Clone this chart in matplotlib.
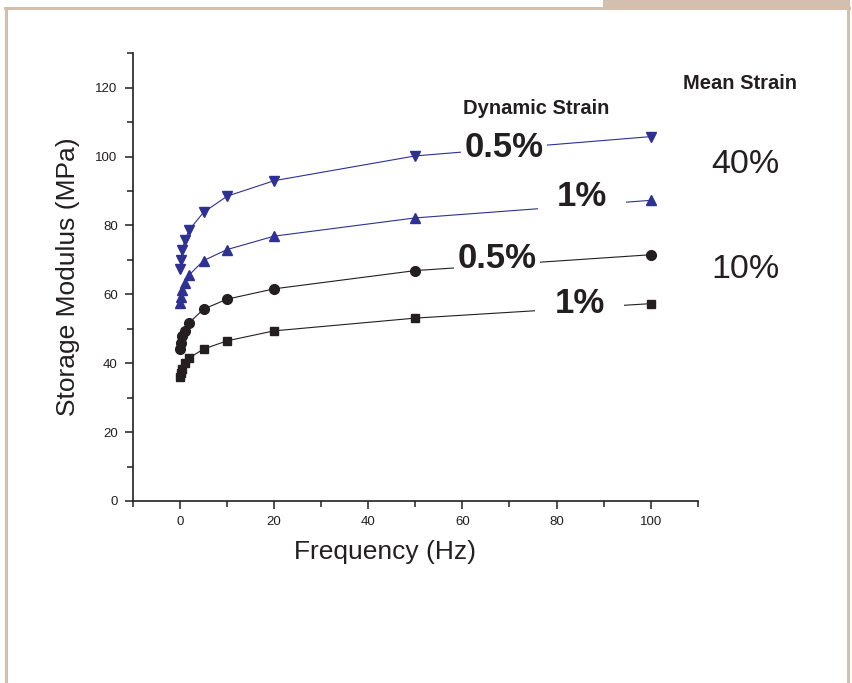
import matplotlib
matplotlib.use("Agg")
import matplotlib.pyplot as plt
from matplotlib.ticker import MultipleLocator
from matplotlib.patches import Rectangle
from matplotlib.lines import Line2D

plt.rcParams['font.family'] = ['Liberation Sans', 'DejaVu Sans']

# frequencia (Hz)
frequencia = [0.1, 0.2, 0.5, 1, 2, 5, 10, 20, 50, 100]

# modulo de armazenamento (MPa)
media40_din05 = [67.4, 69.9, 72.8, 75.7, 78.8, 83.8, 88.5, 93.0, 100.2, 105.8]
media40_din1 = [57.5, 59.2, 61.3, 63.3, 65.7, 69.8, 73.0, 76.9, 82.2, 87.3]
media10_din05 = [44.1, 45.8, 47.8, 49.5, 51.8, 55.7, 58.6, 61.6, 66.9, 71.5]
media10_din1 = [36.0, 37.2, 38.3, 40.2, 41.6, 44.1, 46.5, 49.4, 53.1, 57.3]

azul = '#2e3192'
preto = '#231f20'
bege = '#d4bfae'

fig = plt.figure(figsize=(8.52, 6.83), dpi=100)

# moldura
fig.add_artist(Line2D([0.007, 0.007], [0.0, 0.988], color=bege, lw=2.2))
fig.add_artist(Line2D([0.995, 0.995], [0.0, 0.988], color=bege, lw=2.2))
fig.add_artist(Line2D([0.006, 0.996], [0.988, 0.988], color=bege, lw=2.2))
fig.add_artist(Rectangle((0.708, 0.988), 0.29, 0.012, color=bege, lw=0))

ax = fig.add_axes([0.156, 0.2665, 0.663, 0.6555])

ax.plot(frequencia, media40_din05, 'v-', color=azul, lw=0.8, ms=7.5)
ax.plot(frequencia, media40_din1, '^-', color=azul, lw=0.8, ms=7.5)
ax.plot(frequencia, media10_din05, 'o-', color=preto, lw=0.8, ms=7)
ax.plot(frequencia, media10_din1, 's-', color=preto, lw=0.8, ms=6.3)

ax.set_xlim(-10, 110)
ax.set_ylim(0, 130)
ax.xaxis.set_major_locator(MultipleLocator(20))
ax.xaxis.set_minor_locator(MultipleLocator(10))
ax.yaxis.set_major_locator(MultipleLocator(20))
ax.yaxis.set_minor_locator(MultipleLocator(10))
ax.spines['top'].set_visible(False)
ax.spines['right'].set_visible(False)
for s in ['left', 'bottom']:
    ax.spines[s].set_linewidth(1.2)
    ax.spines[s].set_color(preto)
ax.tick_params(which='major', direction='out', length=6, width=1.1, labelsize=9.5, pad=5, colors=preto)
ax.tick_params(which='minor', direction='out', length=4, width=1.1, colors=preto)

ax.set_xlabel("Frequency (Hz)", fontsize=19, color=preto)
ax.xaxis.set_label_coords(0.446, -0.088)
ax.set_ylabel("Storage Modulus (MPa)", fontsize=19, color=preto, labelpad=11)

# rotulos de deformacao dinamica
ax.text(68.8, 102.6, "0.5%", fontsize=25, fontweight='bold', ha='center', va='center', color=preto,
        bbox=dict(boxstyle='square,pad=0.1', fc='white', ec='none'))
ax.text(85.4, 88.4, "1%", fontsize=25, fontweight='bold', ha='center', va='center', color=preto,
        bbox=dict(boxstyle='square,pad=0.55', fc='white', ec='none'))
ax.text(67.3, 70.3, "0.5%", fontsize=25, fontweight='bold', ha='center', va='center', color=preto,
        bbox=dict(boxstyle='square,pad=0.1', fc='white', ec='none'))
ax.text(84.9, 57.3, "1%", fontsize=25, fontweight='bold', ha='center', va='center', color=preto,
        bbox=dict(boxstyle='square,pad=0.55', fc='white', ec='none'))

ax.text(75.7, 113.9, "Dynamic Strain", fontsize=14.5, fontweight='bold', ha='center', va='center', color=preto)
ax.text(119.0, 121.2, "Mean Strain", fontsize=14.5, fontweight='bold', ha='center', va='center', color=preto)
ax.text(120.2, 97.7, "40%", fontsize=24.5, ha='center', va='center', color=preto)
ax.text(120.2, 67.1, "10%", fontsize=24.5, ha='center', va='center', color=preto)

plt.savefig("out.png", dpi=100)
